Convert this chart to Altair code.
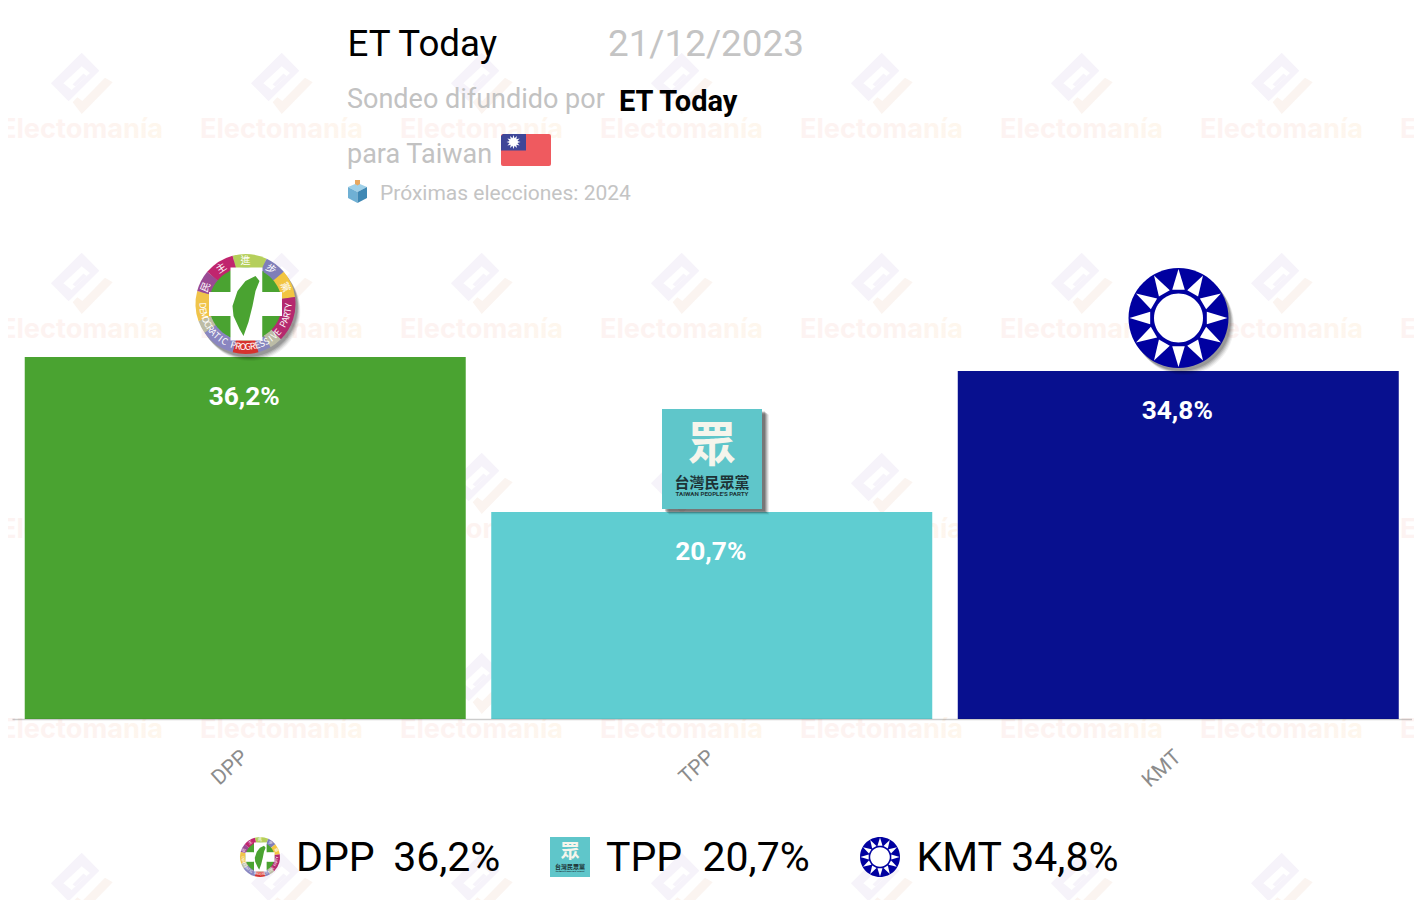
import math
import altair as alt
import pandas as pd

# ---- chart values ----
parties = ["DPP", "TPP", "KMT"]
values = [36.2, 20.7, 34.8]
labels = ["36,2%", "20,7%", "34,8%"]
colors = ["#4aa331", "#5fcdd1", "#08108f"]
legend_texts = ["DPP\u00a0\u200936,2%", "TPP\u00a0\u00a020,7%", "KMT 34,8%"]
legend_x = [296, 606, 916.5]
wm_x = [81.5, 281.5, 481.5, 681.5, 881.5, 1081.5, 1281.5, 1481.5]
wm_logo_y = [83, 283, 483, 683, 883]
wm_text_y = [138, 338, 538, 738]

ring_start = [-15, 25, 50, 82, 135, 150, 165, 195, 235, 250, 285, 310]
ring_end = [25, 50, 82, 135, 150, 165, 195, 235, 250, 285, 310, 345]
ring_col = ["#b5cf5b", "#7f7eb9", "#f2c541", "#b5286f", "#bcbca6", "#8785bd", "#d6322e",
            "#8a86c0", "#bdbca5", "#f0c44a", "#9a4a94", "#c0256e"]
ring_en = "DEMOCRATIC PROGRESSIVE PARTY"
ring_zh = ["民", "主", "進", "步", "黨"]
ring_zh_a = [293, 326, 0, 36, 67]

GRAY = "#c2c2c2"
FONT = "Roboto"


def P(v):
    return v - 8


def fmt(pts):
    return "M" + " L".join(f"{a:.2f},{b:.2f}" for a, b in pts) + " Z"


def circ(r):
    return f"M{r},0 A{r},{r} 0 1,1 {-r},0 A{r},{r} 0 1,1 {r},0 Z"


def deco(path, fill, cx, cy, opacity=1.0):
    df = pd.DataFrame({"px": [P(cx)], "py": [P(cy)]})
    return alt.Chart(df).mark_point(shape=path, size=4, filled=True, fill=fill,
                                    opacity=opacity, strokeWidth=0).encode(
        x=alt.X("px:Q", scale=None), y=alt.Y("py:Q", scale=None))


def txt(text, x, y, size, color="#000000", weight="normal", align="left", font=FONT, angle=0):
    df = pd.DataFrame({"px": [P(x)], "py": [P(y)], "t": [text]})
    return alt.Chart(df).mark_text(align=align, baseline="alphabetic", fontSize=size, color=color,
                                   fontWeight=weight, font=font, angle=angle).encode(
        x=alt.X("px:Q", scale=None), y=alt.Y("py:Q", scale=None), text="t:N")


def dpp_logo(cx, cy, s, shadow):
    out = []
    if shadow:
        for off, op in [(7, .05), (6, .07), (5, .09), (4, .12), (3, .14)]:
            out.append(deco(circ(50), "#000000", cx + off * .7, cy + off, op))
    df = pd.DataFrame({
        "px": [P(cx)] * len(ring_start), "py": [P(cy)] * len(ring_start),
        "a": [math.radians(v) for v in ring_start], "b": [math.radians(v) for v in ring_end],
        "c": ring_col})
    out.append(alt.Chart(df).mark_arc(radius=50 * s, radius2=0).encode(
        x=alt.X("px:Q", scale=None), y=alt.Y("py:Q", scale=None),
        theta=alt.Theta("a:Q", scale=None), theta2=alt.Theta2("b:Q"),
        color=alt.Color("c:N", scale=None)))
    out.append(deco(circ(36.5 * s), "#4aa331", cx, cy))
    # white cross
    out.append(deco(fmt([(-15 * s, -36.5 * s), (17 * s, -36.5 * s), (17 * s, 36.5 * s), (-15 * s, 36.5 * s)]), "#ffffff", cx, cy))
    out.append(deco(fmt([(-36.5 * s, -12 * s), (36.5 * s, -12 * s), (36.5 * s, 12 * s), (-36.5 * s, 12 * s)]), "#ffffff", cx, cy))
    # thin green edge of cross
    for q in [(-16.5, -33, -15.5, -12), (17, -33, 18, -12), (-16.5, 12, -15.5, 33), (17, 12, 18, 33)]:
        x0, y0, x1, y1 = [v * s for v in q]
        out.append(deco(fmt([(x0, y0), (x1, y0), (x1, y1), (x0, y1)]), "#4aa331", cx, cy))
    island = [(10, -28), (14, -23), (10, -13), (7, 2), (3, 18), (-2, 32), (-6, 25), (-12, 12),
              (-13, 2), (-8, -13), (0, -23)]
    out.append(deco(fmt([(a * s, b * s) for a, b in island]), "#4aa331", cx, cy))
    # ring lettering
    rows = []
    n = len(ring_en)
    for i, ch in enumerate(ring_en):
        th = 268 - i * (176 / (n - 1))
        rad = math.radians(th)
        rows.append((P(cx + 43 * s * math.sin(rad)), P(cy - 43 * s * math.cos(rad)), ch, (th - 180) % 360, 9 * s))
    for ch, th in zip(ring_zh, ring_zh_a):
        rad = math.radians(th)
        rows.append((P(cx + 43 * s * math.sin(rad)), P(cy - 43 * s * math.cos(rad)), ch, th % 360, 10 * s))
    tdf = pd.DataFrame(rows, columns=["px", "py", "t", "ang", "fs"])
    out.append(alt.Chart(tdf).mark_text(color="#ffffff", align="center", baseline="middle",
                                        font="Liberation Sans Narrow, Noto Sans CJK TC").encode(
        x=alt.X("px:Q", scale=None), y=alt.Y("py:Q", scale=None), text="t:N",
        angle=alt.Angle("ang:Q", scale=None), size=alt.Size("fs:Q", scale=None)))
    return out


def tpp_logo(cx, cy, s, shadow):
    out = []
    h = 50 * s
    sq = fmt([(-h, -h), (h, -h), (h, h), (-h, h)])
    if shadow:
        for off, op in [(7, .07), (6, .1), (5, .14), (4, .18), (3, .2)]:
            out.append(deco(sq, "#000000", cx + off, cy + off * .8, op))
    out.append(deco(sq, "#5fc6ca", cx, cy))
    out.append(txt("眾", cx, cy + 2 * s, 48 * s, "#f5f5ec", "bold", "center", "Noto Sans CJK TC"))
    out.append(txt("台灣民眾黨", cx, cy + 29 * s, 15 * s, "#1d3336", "bold", "center", "Noto Sans CJK TC"))
    out.append(txt("TAIWAN PEOPLE'S PARTY", cx, cy + 37 * s, 6.2 * s, "#1d3336", "bold", "center"))
    return out


def kmt_logo(cx, cy, s, shadow):
    out = []
    if shadow:
        for off, op in [(7, .05), (6, .07), (5, .09), (4, .12), (3, .14)]:
            out.append(deco(circ(50), "#000000", cx + off * .8, cy + off, op))
    out.append(deco(circ(50 * s), "#0000a0", cx, cy))
    for k in range(12):
        a = math.radians(k * 30)
        tip = (49 * s * math.sin(a), -49 * s * math.cos(a))
        da = math.radians(12.5)
        b1 = (29 * s * math.sin(a - da), -29 * s * math.cos(a - da))
        b2 = (29 * s * math.sin(a + da), -29 * s * math.cos(a + da))
        out.append(deco(fmt([tip, b1, b2]), "#ffffff", cx, cy))
    out.append(deco(circ(24.5 * s), "#ffffff", cx, cy))
    return out


# ---- watermark ----
wm_text_df = pd.DataFrame([{"px": P(x), "py": P(y)} for x in wm_x for y in wm_text_y])
wm_logo_df = pd.DataFrame([{"px": P(x), "py": P(y)} for x in wm_x for y in wm_logo_y])
wm_diamond = (fmt([(0.2, -30.3), (-30.5, 0.3), (-12.9, 18.3), (17.8, -12.3)])
              + " " + fmt([(0.2, -16.7), (8.5, -10), (-9.8, 7), (-18.2, 0.3)]))
wm_slit = fmt([(-9, 1.5), (-6, 3.5), (5, -7), (2, -9.5)])
wm_hook = fmt([(-8.8, 19.3), (0.2, 31), (31.2, -0.7), (23.5, -5.3), (0.8, 18), (-4.2, 14.3)])


def wm_shape(path, fill):
    return alt.Chart(wm_logo_df).mark_point(shape=path, size=4, filled=True, fill=fill, opacity=1,
                                            strokeWidth=0).encode(
        x=alt.X("px:Q", scale=None), y=alt.Y("py:Q", scale=None))


wm_grad = alt.LinearGradient(gradient="linear", x1=0, y1=0, x2=1, y2=0,
                             stops=[alt.GradientStop(offset=0, color="#fdf3f2"),
                                    alt.GradientStop(offset=0.6, color="#fdf3f0"),
                                    alt.GradientStop(offset=1, color="#fef7ed")])
wm_layers = [
    wm_shape(wm_diamond, "#f6f3fa"),
    wm_shape(wm_slit, "#f6f3fa"),
    wm_shape(wm_hook, "#fbf4f0"),
    alt.Chart(wm_text_df.assign(t="Electomanía")).mark_text(
        align="center", baseline="alphabetic", fontSize=27.2, fontWeight="bold", font="Inter",
        fill=wm_grad).encode(x=alt.X("px:Q", scale=None), y=alt.Y("py:Q", scale=None), text="t:N"),
]

# ---- bars ----
bar_df = pd.DataFrame({"party": parties, "value": values, "label": labels, "color": colors})
x_enc = alt.X("party:N", sort=parties, title=None,
              scale=alt.Scale(domain=parties, range=[4, 1403.5], paddingInner=0.0547, paddingOuter=0.0273),
              axis=alt.Axis(labelAngle=318, labelAlign="right", labelBaseline="middle", labelFontSize=21,
                            labelFont=FONT, labelColor="#8c8c8c", labelPadding=35, ticks=False,
                            domainColor="#000000", domainOpacity=0.2, domainWidth=1.5, grid=False, zindex=1))
y_enc = alt.Y("value:Q", axis=None, scale=alt.Scale(domain=[0, 71.1], range=[711, 0], nice=False, zero=True))
bars = alt.Chart(bar_df).mark_bar(strokeWidth=0).encode(
    x=x_enc, y=y_enc, color=alt.Color("color:N", scale=None, legend=None))
bar_labels = alt.Chart(bar_df).mark_text(color="#ffffff", fontSize=26.3, fontWeight="bold", font=FONT,
                                         dy=40, dx=-1, baseline="middle", align="center").encode(
    x=x_enc, y=y_enc, text="label:N")


def rounded(w, h, r):
    return (f"M{r},0 L{w - r},0 Q{w},0 {w},{r} L{w},{h - r} Q{w},{h} {w - r},{h} "
            f"L{r},{h} Q0,{h} 0,{h - r} L0,{r} Q0,0 {r},0 Z")


sun_pts = []
for k in range(24):
    r_ = 7 if k % 2 == 0 else 4
    a_ = math.radians(k * 15)
    sun_pts.append((r_ * math.sin(a_), -r_ * math.cos(a_)))

# ---- header ----
header = [
    txt("ET Today", 347.5, 56, 36.7),
    txt("21/12/2023", 608, 56, 36.8, "#c4c4c4"),
    txt("Sondeo difundido por", 347, 108, 27, GRAY),
    txt("ET Today", 619, 111, 29, "#000000", "bold"),
    txt("para Taiwan", 347, 162.5, 27, GRAY),
    txt("Próximas elecciones: 2024", 380, 200, 21, "#c4c4c4"),
    deco(rounded(50, 32, 2), "#ef5a5f", 501, 134),
    deco(fmt([(2, 0), (25, 0), (25, 16.5), (0, 16.5), (0, 2)]), "#3f4698", 501, 134),
    deco(fmt(sun_pts), "#ffffff", 513.5, 142),
    # ballot box
    deco(fmt([(-9.5, -5), (0, -9), (9.5, -5), (0, 0)]), "#9fd0e8", 357.5, 192),
    deco(fmt([(-9.5, -5), (0, 0), (0, 11), (-9.5, 6)]), "#6fb0d4", 357.5, 192),
    deco(fmt([(9.5, -5), (0, 0), (0, 11), (9.5, 6)]), "#3f88b4", 357.5, 192),
    deco(fmt([(-2.5, -8), (-2.5, -12), (2.5, -12), (2.5, -8), (0, -6.5)]), "#e8a860", 357.5, 192),
]

# ---- legend ----
legend = [txt(t, x, 871, 41) for t, x in zip(legend_texts, legend_x)]

layers = (wm_layers + [bars, bar_labels] + header
          + dpp_logo(245.5, 304, 1, True) + tpp_logo(712, 459, 1, True) + kmt_logo(1178.5, 318, 1, True)
          + dpp_logo(260, 857, 0.4, False) + tpp_logo(570, 857, 0.4, False) + kmt_logo(880, 857, 0.4, False)
          + legend)

chart = alt.layer(*layers).properties(
    width=1406, height=711, padding={"left": 0, "top": 0, "right": 0, "bottom": 181},
    autosize=alt.AutoSizeParams(type="none"), background="#ffffff",
).configure_view(strokeWidth=0)

chart.save("out.html", embed_options={"renderer": "svg", "actions": False})
